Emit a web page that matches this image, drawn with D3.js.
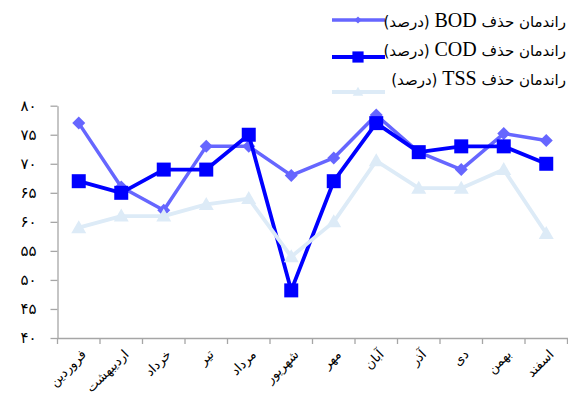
<!DOCTYPE html>
<html>
<head>
<meta charset="utf-8">
<script src="https://cdn.jsdelivr.net/npm/d3@7"></script>
<style>
  html, body { margin: 0; padding: 0; background: #fff; }
  svg { display: block; }
</style>
</head>
<body>
<svg id="chart" width="568" height="401"></svg>
<script>
// Monthly removal efficiency (%) of a treatment plant
const months = ["فروردین", "اردیبهشت", "خرداد", "تیر", "مرداد", "شهریور",
                "مهر", "آبان", "آذر", "دی", "بهمن", "اسفند"];
const bodValues = [77, 66, 62, 73, 73, 68, 71, 78.4, 72, 69, 75.2, 74];
const codValues = [67, 65, 69, 69, 75, 48.2, 67, 77, 72, 73, 73, 70];
const tssValues = [59, 61, 61, 63, 64, 54, 60, 70.5, 65.8, 65.8, 69, 58];
const yTicks = [40, 45, 50, 55, 60, 65, 70, 75, 80];
const legendPrefix = "راندمان حذف ";
const legendSuffix = " (درصد)";
const paramNames = ["BOD", "COD", "TSS"];

const toPersianDigits = n => String(n).replace(/\d/g, d => "۰۱۲۳۴۵۶۷۸۹"[d]);

const svg = d3.select("#chart");
const plotLeft = 57.5, plotRight = 567.5, plotTop = 105.7, plotBottom = 338;

const x = d3.scaleBand().domain(months).range([plotLeft, plotRight]);
const y = d3.scaleLinear().domain([40, 80]).range([plotBottom, plotTop]);
const cx = d => x(d) + x.bandwidth() / 2;

const axisColor = "#a6a6a6";

// Y axis
const yAxis = svg.append("g")
  .attr("transform", `translate(${plotLeft},0)`)
  .call(d3.axisLeft(y).tickValues(yTicks).tickSize(7).tickSizeOuter(0).tickPadding(14)
    .tickFormat(toPersianDigits));
yAxis.select(".domain").attr("stroke", axisColor).attr("stroke-width", 1.3);
yAxis.selectAll(".tick line").attr("stroke", axisColor).attr("stroke-width", 1.3);
yAxis.selectAll(".tick text")
  .attr("font-family", "DejaVu Sans")
  .attr("font-size", 15)
  .attr("fill", "#000");

// X axis: line, ticks at category boundaries, rotated labels
const xAxis = svg.append("g")
  .attr("transform", `translate(0,${plotBottom})`)
  .call(d3.axisBottom(x).tickSize(0).tickSizeOuter(0).tickFormat(""));
xAxis.select(".domain").attr("stroke", axisColor).attr("stroke-width", 1.3);

const edges = months.map(m => x(m)).concat([x(months[months.length - 1]) + x.bandwidth()]);
svg.append("g").selectAll("line").data(edges).join("line")
  .attr("x1", d => d).attr("x2", d => d)
  .attr("y1", plotBottom).attr("y2", plotBottom + 6)
  .attr("stroke", axisColor).attr("stroke-width", 1.3);

svg.append("g").selectAll("text").data(months).join("text")
  .attr("transform", d => `translate(${cx(d) + 5},${plotBottom + 14}) rotate(-45)`)
  .attr("text-anchor", "end")
  .attr("dy", "0.35em")
  .attr("font-family", "DejaVu Sans")
  .attr("font-size", 13)
  .attr("fill", "#000")
  .text(d => d);

// Marker shapes
const diamond = "M0,-6.5L6.5,0L0,6.5L-6.5,0Z";
const square = "M-7,-7H7V7H-7Z";
const triangle = "M0,-7.5L7.5,5.5H-7.5Z";

const series = [
  { key: paramNames[0], values: bodValues, color: "#6666ff", width: 3.5, marker: diamond },
  { key: paramNames[1], values: codValues, color: "#0000ff", width: 3.8, marker: square },
  { key: paramNames[2], values: tssValues, color: "#ddebf7", width: 3.8, marker: triangle }
];

const line = d3.line().x((d, i) => cx(months[i])).y(d => y(d));

series.forEach(s => {
  const g = svg.append("g");
  g.append("path")
    .attr("d", line(s.values))
    .attr("fill", "none")
    .attr("stroke", s.color)
    .attr("stroke-width", s.width)
    .attr("stroke-linejoin", "round");
  g.selectAll("path.m").data(s.values).join("path")
    .attr("class", "m")
    .attr("d", s.marker)
    .attr("transform", (d, i) => `translate(${cx(months[i])},${y(d)})`)
    .attr("fill", s.color);
});

// Legend
const legendLineY = [20, 57, 92];
const legendTextY = [26.5, 56, 85];
const legendMarkerScale = [0.55, 0.8, 0.7];
const legend = svg.append("g");
series.forEach((s, i) => {
  legend.append("line")
    .attr("x1", 332).attr("x2", 385).attr("y1", legendLineY[i]).attr("y2", legendLineY[i])
    .attr("stroke", s.color).attr("stroke-width", s.width);
  legend.append("path")
    .attr("d", s.marker)
    .attr("transform", `translate(358,${legendLineY[i]}) scale(${legendMarkerScale[i]})`)
    .attr("fill", s.color);
  const t = legend.append("text")
    .attr("x", 566).attr("y", legendTextY[i])
    .attr("direction", "rtl")
    .attr("text-anchor", "start")
    .attr("fill", "#000");
  t.append("tspan").attr("font-family", "DejaVu Sans").attr("font-size", 15).text(legendPrefix);
  t.append("tspan").attr("font-family", "Liberation Serif").attr("font-size", 20).text(s.key);
  t.append("tspan").attr("font-family", "DejaVu Sans").attr("font-size", 15).text(legendSuffix);
});
</script>
</body>
</html>
